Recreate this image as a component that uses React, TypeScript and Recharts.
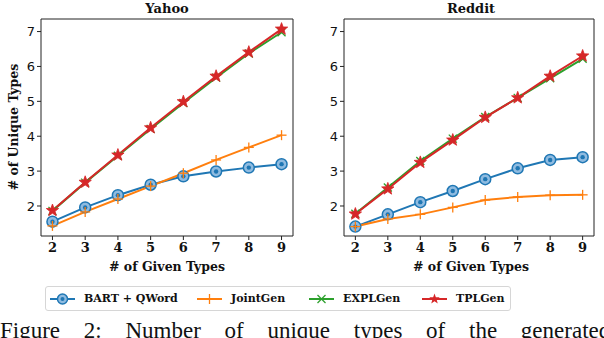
import React from "react";
import { LineChart, Line, XAxis, YAxis, ReferenceArea } from "recharts";

const givenTypes = [2, 3, 4, 5, 6, 7, 8, 9];

const yahooBart = [1.55, 1.96, 2.31, 2.61, 2.85, 2.99, 3.1, 3.2];
const yahooJoint = [1.43, 1.83, 2.2, 2.57, 2.94, 3.32, 3.68, 4.03];
const yahooExpl = [1.86, 2.67, 3.44, 4.21, 4.95, 5.68, 6.37, 6.98];
const yahooTpl = [1.87, 2.68, 3.46, 4.24, 4.99, 5.72, 6.41, 7.07];

const redditBart = [1.41, 1.76, 2.11, 2.43, 2.77, 3.08, 3.32, 3.4];
const redditJoint = [1.41, 1.63, 1.76, 1.96, 2.17, 2.26, 2.31, 2.32];
const redditExpl = [1.78, 2.53, 3.29, 3.93, 4.55, 5.1, 5.66, 6.22];
const redditTpl = [1.77, 2.49, 3.25, 3.89, 4.54, 5.1, 5.72, 6.3];

const xTicks = [2, 3, 4, 5, 6, 7, 8, 9];
const yTicks = [2, 3, 4, 5, 6, 7];
const X_DOMAIN: [number, number] = [1.65, 9.35];
const Y_DOMAIN: [number, number] = [1.14, 7.36];

const BLUE = "#1f77b4";
const ORANGE = "#ff7f0e";
const GREEN = "#2ca02c";
const RED = "#d62728";

const SLAB = "'DejaVu Serif', serif";
const SANS = "'DejaVu Sans', sans-serif";
const TIMES = "'Liberation Serif', serif";

function buildRows(bart: number[], joint: number[], expl: number[], tpl: number[]) {
  return givenTypes.map((g, i) => ({ g, bart: bart[i], joint: joint[i], expl: expl[i], tpl: tpl[i] }));
}

const yahooRows = buildRows(yahooBart, yahooJoint, yahooExpl, yahooTpl);
const redditRows = buildRows(redditBart, redditJoint, redditExpl, redditTpl);

function starPoints(cx: number, cy: number, ro: number, ri: number) {
  const pts: string[] = [];
  for (let i = 0; i < 10; i++) {
    const r = i % 2 === 0 ? ro : ri;
    const a = -Math.PI / 2 + (i * Math.PI) / 5;
    pts.push(`${cx + r * Math.cos(a)},${cy + r * Math.sin(a)}`);
  }
  return pts.join(" ");
}

const CircleDot = (p: any) => (
  <g key={`c-${p.index}`}>
    <circle cx={p.cx} cy={p.cy} r={5.5} fill="#8fbbe0" stroke={BLUE} strokeWidth={1.5} />
    <circle cx={p.cx} cy={p.cy} r={2.2} fill={BLUE} />
  </g>
);

const PlusDot = (p: any) => (
  <g key={`p-${p.index}`} stroke={ORANGE} strokeWidth={1.3}>
    <line x1={p.cx - 5} y1={p.cy} x2={p.cx + 5} y2={p.cy} />
    <line x1={p.cx} y1={p.cy - 5} x2={p.cx} y2={p.cy + 5} />
  </g>
);

const CrossDot = (p: any) => (
  <g key={`x-${p.index}`} stroke={GREEN} strokeWidth={1.3}>
    <line x1={p.cx - 4} y1={p.cy - 4} x2={p.cx + 4} y2={p.cy + 4} />
    <line x1={p.cx - 4} y1={p.cy + 4} x2={p.cx + 4} y2={p.cy - 4} />
  </g>
);

const StarDot = (p: any) => (
  <polygon key={`s-${p.index}`} points={starPoints(p.cx, p.cy, 6.5, 2.7)} fill={RED} stroke={RED} strokeWidth={0.8} />
);

function Panel({ rows, yAxisWidth, rightMargin }: { rows: any[]; yAxisWidth: number; rightMargin: number }) {
  return (
    <LineChart
      width={300}
      height={280}
      data={rows}
      margin={{ top: 19, right: rightMargin, bottom: 0, left: 0 }}
    >
      <XAxis
        type="number"
        dataKey="g"
        domain={X_DOMAIN}
        ticks={xTicks}
        height={44}
        tickSize={4}
        tickMargin={3}
        axisLine={false}
        stroke="#222"
        tick={{ fill: "#111", fontFamily: SLAB, fontWeight: 700, fontSize: 13 }}
      />
      <YAxis
        type="number"
        domain={Y_DOMAIN}
        ticks={yTicks}
        width={yAxisWidth}
        tickSize={4}
        tickMargin={2}
        axisLine={false}
        stroke="#222"
        tick={{ fill: "#111", fontFamily: SANS, fontSize: 13 }}
      />
      <ReferenceArea
        x1={X_DOMAIN[0]}
        x2={X_DOMAIN[1]}
        y1={Y_DOMAIN[0]}
        y2={Y_DOMAIN[1]}
        fill="none"
        stroke="#222"
        strokeWidth={1}
        ifOverflow="visible"
      />
      <Line dataKey="bart" stroke={BLUE} strokeWidth={2} dot={CircleDot} isAnimationActive={false} />
      <Line dataKey="joint" stroke={ORANGE} strokeWidth={2} dot={PlusDot} isAnimationActive={false} />
      <Line dataKey="expl" stroke={GREEN} strokeWidth={2} dot={CrossDot} isAnimationActive={false} />
      <Line dataKey="tpl" stroke={RED} strokeWidth={2} dot={StarDot} isAnimationActive={false} />
    </LineChart>
  );
}

const legendItems = [
  { name: "BART + QWord", color: BLUE, kind: "circle", x: 50 },
  { name: "JointGen", color: ORANGE, kind: "plus", x: 197 },
  { name: "EXPLGen", color: GREEN, kind: "cross", x: 309 },
  { name: "TPLGen", color: RED, kind: "star", x: 422 },
];

function LegendMarker({ kind, color }: { kind: string; color: string }) {
  return (
    <svg width={25} height={12} style={{ display: "block" }}>
      <line x1={0} y1={6} x2={25} y2={6} stroke={color} strokeWidth={2} />
      {kind === "circle" && (
        <g>
          <circle cx={12.5} cy={6} r={5} fill="#8fbbe0" stroke={color} strokeWidth={1.5} />
          <circle cx={12.5} cy={6} r={2} fill={color} />
        </g>
      )}
      {kind === "plus" && <line x1={12.5} y1={1} x2={12.5} y2={11} stroke={color} strokeWidth={1.3} />}
      {kind === "cross" && (
        <g stroke={color} strokeWidth={1.3}>
          <line x1={8.5} y1={2} x2={16.5} y2={10} />
          <line x1={8.5} y1={10} x2={16.5} y2={2} />
        </g>
      )}
      {kind === "star" && <polygon points={starPoints(12.5, 6, 5.5, 2.3)} fill={color} />}
    </svg>
  );
}

export default function App() {
  const titleStyle: React.CSSProperties = {
    position: "absolute",
    top: 0,
    fontFamily: SLAB,
    fontWeight: 700,
    fontSize: 13,
    textAlign: "center",
    width: 200,
    lineHeight: "18px",
  };
  const xLabelStyle: React.CSSProperties = { ...titleStyle, top: 258, fontSize: 12.5 };
  return (
    <div
      style={{
        position: "absolute",
        left: 0,
        top: 0,
        width: 604,
        height: 338,
        overflow: "hidden",
        background: "#fff",
        color: "#111",
      }}
    >
      <div style={{ position: "absolute", left: 0, top: 0 }}>
        <Panel rows={yahooRows} yAxisWidth={41} rightMargin={7} />
      </div>
      <div style={{ position: "absolute", left: 300, top: 0 }}>
        <Panel rows={redditRows} yAxisWidth={44} rightMargin={6} />
      </div>

      <div style={{ ...titleStyle, left: 67 }}>Yahoo</div>
      <div style={{ ...titleStyle, left: 371 }}>Reddit</div>
      <div style={{ ...xLabelStyle, left: 67 }}># of Given Types</div>
      <div style={{ ...xLabelStyle, left: 371 }}># of Given Types</div>
      <div
        style={{
          position: "absolute",
          left: 14 - 100,
          top: 127 - 9,
          width: 200,
          textAlign: "center",
          lineHeight: "18px",
          fontFamily: SLAB,
          fontWeight: 700,
          fontSize: 12.5,
          transform: "rotate(-90deg)",
        }}
      >
        # of Unique Types
      </div>

      <div
        style={{
          position: "absolute",
          left: 45,
          top: 286,
          width: 466,
          height: 25,
          boxSizing: "border-box",
          border: "1px solid #d6d6d6",
          borderRadius: 3,
        }}
      >
        {legendItems.map((it) => (
          <div
            key={it.name}
            style={{ position: "absolute", left: it.x - 46, top: 5, display: "flex", alignItems: "center" }}
          >
            <LegendMarker kind={it.kind} color={it.color} />
            <span
              style={{
                marginLeft: 9,
                fontFamily: SLAB,
                fontWeight: 700,
                fontSize: 11,
                lineHeight: "14px",
              }}
            >
              {it.name}
            </span>
          </div>
        ))}
      </div>

      <div
        style={{
          position: "absolute",
          left: 0,
          top: 318,
          width: 660,
          fontFamily: TIMES,
          fontSize: 23,
          lineHeight: "26px",
          whiteSpace: "nowrap",
          wordSpacing: 18,
        }}
      >
        Figure 2: Number of unique types of the generated
      </div>
    </div>
  );
}
